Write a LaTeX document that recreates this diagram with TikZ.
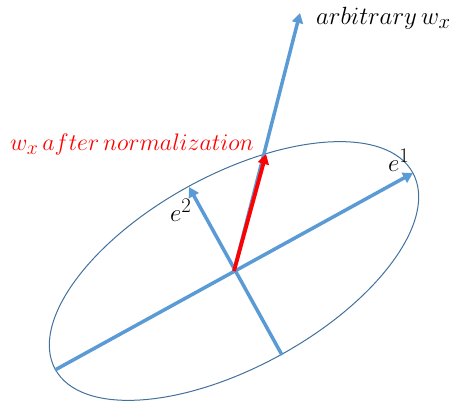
\documentclass[tikz,border=0pt]{standalone}
\usetikzlibrary{arrows.meta}
\definecolor{axisblue}{RGB}{91,155,213}
\definecolor{rimblue}{RGB}{65,113,156}
\definecolor{normred}{RGB}{255,0,0}
\tikzset{
  axisline/.style={draw=axisblue, line width=3.5pt, -{Triangle[width=11pt,length=10pt]}},
  redline/.style={draw=normred, line width=3.8pt, -{Triangle[width=11pt,length=10pt]}},
  lbl/.style={font=\Huge, inner sep=0pt, anchor=base west}
}
\begin{document}
\begin{tikzpicture}[x=1pt, y=1pt]
  \useasboundingbox (0,0) rectangle (451,400);
  % 1. 关键点
  \coordinate (O) at (234,129);
  \coordinate (A) at (55,30);
  \coordinate (E1) at (413,227);
  \coordinate (B) at (282,45);
  \coordinate (E2) at (189,213);
  \coordinate (R) at (266,246);
  \coordinate (W) at (300,387);

  % 2. 椭圆
  \draw[rimblue, line width=1pt] (O) ellipse [x radius=204, y radius=96, rotate=28.8];

  % 3. 主轴与向量
  \draw[axisline] (A) -- (E1);
  \draw[axisline] (B) -- (E2);
  \draw[axisline] (O) -- (W);
  \draw[redline] (O) -- (R);

  % 4. 文字
  \node[lbl] (lw) at (316,375) {$arbitrary\,w_x$};
  \node[lbl, text=normred, scale=0.96] (ln) at (10,249) {$w_x\,after\,normalization$};
  \node[lbl] (le1) at (388,228) {$e^1$};
  \node[lbl] (le2) at (170,178) {$e^2$};
\end{tikzpicture}
\end{document}
